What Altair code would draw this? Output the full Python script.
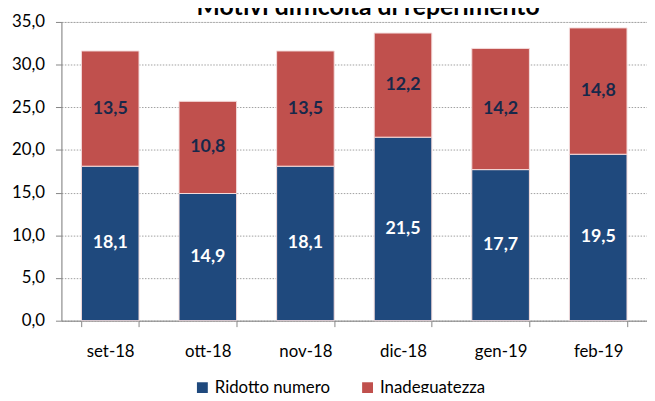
import altair as alt
import pandas as pd

title_text = "Motivi difficoltà di reperimento"
categories = ["set-18", "ott-18", "nov-18", "dic-18", "gen-19", "feb-19"]
ridotto = [18.1, 14.9, 18.1, 21.5, 17.7, 19.5]
inadeguatezza = [13.5, 10.8, 13.5, 12.2, 14.2, 14.8]
series_names = ["Ridotto numero", "Inadeguatezza"]
y_ticks = [0, 5, 10, 15, 20, 25, 30, 35]

rows = []
for i, c in enumerate(categories):
    rows.append({"cat": c, "serie": series_names[0], "val": ridotto[i], "ord": 0,
                 "lab": f"{ridotto[i]:.1f}".replace(".", ",")})
    rows.append({"cat": c, "serie": series_names[1], "val": inadeguatezza[i], "ord": 1,
                 "lab": f"{inadeguatezza[i]:.1f}".replace(".", ",")})
df = pd.DataFrame(rows)

FONT = "Lato"
COLORS = ["#1f497d", "#c0504d"]

base = alt.Chart(df)

bars = base.mark_bar(stroke="#f4dcdc", strokeWidth=1).encode(
    x=alt.X("cat:N", sort=categories, title=None,
            scale=alt.Scale(paddingInner=0.41, paddingOuter=0.205),
            axis=alt.Axis(labelAngle=0, labelFont=FONT, labelFontSize=17, labelColor="#000000",
                          domainColor="#868686", tickColor="#868686", tickSize=6,
                          tickBand="extent", labelPadding=17, grid=False)),
    y=alt.Y("val:Q", stack="zero", title=None,
            scale=alt.Scale(domain=[0, 35], nice=False),
            axis=alt.Axis(values=y_ticks, labelFont=FONT, labelFontSize=17, labelColor="#000000",
                          labelExpr="replace(format(datum.value, '.1f'), '.', ',')",
                          domainColor="#868686", tickColor="#868686", tickSize=6,
                          labelPadding=11, grid=True, gridColor="#a0a0a0",
                          gridDash=[1.5, 1.5], gridWidth=1)),
    color=alt.Color("serie:N", sort=series_names, title=None,
                    scale=alt.Scale(domain=series_names, range=COLORS),
                    legend=alt.Legend(orient="none", direction="horizontal",
                                      legendX=134, legendY=361,
                                      symbolType="square", symbolSize=121,
                                      symbolStrokeWidth=0, symbolOpacity=1,
                                      labelFont=FONT, labelFontSize=17, labelColor="#000000",
                                      columnPadding=29, labelOffset=4)),
    order=alt.Order("ord:Q"),
)

labels_blue = base.transform_filter(alt.datum.ord == 0).transform_calculate(
    mid="datum.val / 2"
).mark_text(font=FONT, fontSize=18, fontWeight="bold", color="#ffffff").encode(
    x=alt.X("cat:N", sort=categories),
    y=alt.Y("mid:Q"),
    text="lab:N",
)

labels_red = base.transform_joinaggregate(
    tot="sum(val)", groupby=["cat"]
).transform_filter(alt.datum.ord == 1).transform_calculate(
    mid="datum.tot - datum.val / 2"
).mark_text(font=FONT, fontSize=18, fontWeight="bold", color="#17284a").encode(
    x=alt.X("cat:N", sort=categories),
    y=alt.Y("mid:Q"),
    text="lab:N",
)

title = alt.Chart(pd.DataFrame({"t": [title_text]})).mark_text(
    font=FONT, fontSize=25, fontWeight="bold", color="#000000", baseline="alphabetic"
).encode(x=alt.value(310), y=alt.value(-7), text="t:N")

chart = alt.layer(bars, labels_blue, labels_red, title).properties(
    width=592, height=302,
    autosize=alt.AutoSizeParams(type="none"),
    padding={"left": 54, "top": 12, "right": 0, "bottom": 71},
).configure_view(stroke=None).configure(background="#ffffff")

chart.save("out.html", embed_options={"renderer": "svg", "actions": False})
